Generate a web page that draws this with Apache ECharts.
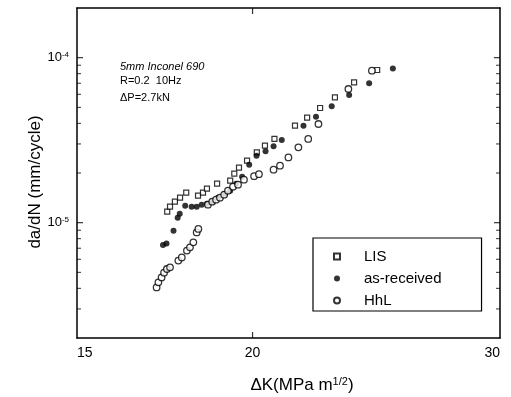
<!DOCTYPE html>
<html><head><meta charset="utf-8">
<script src="https://cdn.jsdelivr.net/npm/echarts@6/dist/echarts.min.js"></script>
<style>html,body{margin:0;padding:0;background:#fff}#c{width:511px;height:397px}</style>
</head><body><div id="c"></div>
<script>
// ΔK (MPa m^1/2) and da/dN (mm/cycle)
const lisK = [17.39,17.47,17.61,17.76,17.94,18.29,18.44,18.56,18.87,19.28,19.41,19.56,19.82,20.14,20.41,20.73,21.44,21.87,22.34,22.89,23.62,24.53];
const lisRate = [1.166e-5,1.25e-5,1.341e-5,1.418e-5,1.52e-5,1.458e-5,1.52e-5,1.607e-5,1.724e-5,1.797e-5,1.982e-5,2.154e-5,2.375e-5,2.667e-5,2.929e-5,3.216e-5,3.872e-5,4.329e-5,4.955e-5,5.745e-5,7.09e-5,8.42e-5];
const asrK = [17.27,17.37,17.57,17.69,17.75,17.91,18.10,18.25,18.40,18.56,18.72,18.90,19.12,19.28,19.47,19.66,19.89,20.13,20.43,20.70,20.98,21.74,22.19,22.77,23.43,24.21,25.17];
const asrRate = [7.31e-6,7.49e-6,8.94e-6,1.072e-5,1.134e-5,1.268e-5,1.25e-5,1.25e-5,1.286e-5,1.304e-5,1.341e-5,1.418e-5,1.499e-5,1.563e-5,1.724e-5,1.901e-5,2.246e-5,2.547e-5,2.713e-5,2.901e-5,3.172e-5,3.872e-5,4.389e-5,5.068e-5,5.94e-5,6.99e-5,8.61e-5];
const hhlK = [17.09,17.14,17.23,17.30,17.38,17.47,17.71,17.81,17.96,18.05,18.15,18.25,18.30,18.59,18.72,18.84,18.96,19.09,19.21,19.37,19.53,19.72,20.05,20.21,20.70,20.92,21.21,21.56,21.91,22.28,23.40,24.32];
const hhlRate = [4.05e-6,4.35e-6,4.66e-6,4.98e-6,5.24e-6,5.36e-6,5.89e-6,6.16e-6,6.77e-6,7.09e-6,7.6e-6,8.73e-6,9.16e-6,1.286e-5,1.341e-5,1.378e-5,1.418e-5,1.478e-5,1.563e-5,1.652e-5,1.699e-5,1.822e-5,1.914e-5,1.968e-5,2.096e-5,2.215e-5,2.487e-5,2.86e-5,3.216e-5,3.963e-5,6.46e-5,8.34e-5];
const xTickLabels = [15, 20, 30];
const xTickMarks = [20];
const yTickLabels = [1e-5, 1e-4];
const yDecades = [1e-6, 1e-5, 1e-4];
const yMantissas = [2, 3, 4, 5, 6, 7, 8, 9];
const seriesNames = ['LIS', 'as-received', 'HhL'];
const noteLines = ['5mm Inconel 690', 'R=0.2  10Hz', 'ΔP=2.7kN'];

const xMin = 15, xMax = 30, yMin = 2e-6, yMax = 2e-4;
const yMinorMarks = [];
yDecades.forEach(d => yMantissas.forEach(m => { const v = +(d * m).toPrecision(3); if (v > yMin && v < yMax) yMinorMarks.push(v); }));

const zip = (a, b) => a.map((v, i) => [v, b[i]]);
const FONT = "'Liberation Sans', Arial, sans-serif";
const yFmt = v => '{b|10}{s|' + Math.round(Math.log10(v)) + '}';

const axisBase = {
  axisLine: { show: true, lineStyle: { color: '#000', width: 1.5 } },
  splitLine: { show: false }, minorTick: { show: false }, axisTick: { show: false }
};
const xCommon = Object.assign({ type: 'log', logBase: 10, min: xMin, max: xMax }, axisBase);
const yCommon = Object.assign({ type: 'log', logBase: 10, min: yMin, max: yMax }, axisBase);

// tick marks placed through the axes' own scales
const tickSeries = (data, size, offset) => ({
  type: 'scatter', data, symbol: 'rect', symbolSize: size, symbolOffset: offset,
  itemStyle: { color: '#000' }, silent: true, clip: false, z: 1
});

const chart = echarts.init(document.getElementById('c'));
chart.setOption({
  backgroundColor: '#fff',
  animation: false,
  tooltip: { show: false },
  grid: { left: 77, right: 11, top: 8, bottom: 59, outerBoundsMode: 'none', show: false },
  xAxis: [
    Object.assign({}, xCommon, {
      position: 'bottom',
      name: '{a|ΔK(MPa m}{s|1/2}{a|)}', nameLocation: 'middle', nameGap: 38,
      nameTextStyle: { padding: [0, 0, 0, 27], rich: {
        a: { fontSize: 17, fontFamily: FONT, color: '#000' },
        s: { fontSize: 11, fontFamily: FONT, color: '#000', verticalAlign: 'top', padding: [0, 0, 8, 0] } } },
      axisLabel: { show: true, customValues: xTickLabels, margin: 8, fontSize: 14, fontFamily: FONT, color: '#000',
        alignMinLabel: 'left', alignMaxLabel: 'right' }
    }),
    Object.assign({}, xCommon, { position: 'top', axisLabel: { show: false } })
  ],
  yAxis: [
    Object.assign({}, yCommon, {
      position: 'left',
      name: 'da/dN (mm/cycle)', nameLocation: 'middle', nameGap: 33, nameMoveOverlap: false,
      nameTextStyle: { fontSize: 17, fontFamily: FONT, color: '#000', padding: [0, 18, 0, 0] },
      axisLabel: { show: true, customValues: yTickLabels, formatter: yFmt, margin: 8, color: '#000',
        rich: { b: { fontSize: 13, fontFamily: FONT, color: '#000' },
                s: { fontSize: 8, fontFamily: FONT, color: '#000', verticalAlign: 'top', padding: [0, 0, 6, 0] } } }
    }),
    Object.assign({}, yCommon, { position: 'right', axisLabel: { show: false } })
  ],
  legend: {
    data: [{ name: seriesNames[0], icon: 'path://M0,0L10,0L10,10L0,10Z' }, seriesNames[1], seriesNames[2]],
    orient: 'vertical', left: 313, top: 238,
    padding: [11, 40, 3, 20], itemGap: 7, itemWidth: 6, itemHeight: 6,
    borderColor: '#000', borderWidth: 1.2, backgroundColor: '#fff', selectedMode: false,
    textStyle: { fontSize: 15, fontFamily: FONT, color: '#000', padding: [0, 0, 0, 19] }
  },
  graphic: noteLines.map((t, i) => ({
    type: 'text', left: 120, top: [61, 75, 92][i],
    style: { text: t, fontSize: 11, fontFamily: FONT, fontStyle: i === 0 ? 'italic' : 'normal', fill: '#000' }
  })),
  series: [
    { name: seriesNames[0], type: 'scatter', data: zip(lisK, lisRate), symbol: 'rect', symbolSize: 5,
      itemStyle: { color: '#fff', borderColor: '#000', borderWidth: 1.2 }, z: 3 },
    { name: seriesNames[1], type: 'scatter', data: zip(asrK, asrRate), symbol: 'circle', symbolSize: 6,
      itemStyle: { color: '#000', borderColor: '#000', borderWidth: 0 }, z: 3 },
    { name: seriesNames[2], type: 'scatter', data: zip(hhlK, hhlRate), symbol: 'circle', symbolSize: 6.5,
      itemStyle: { color: '#fff', borderColor: '#000', borderWidth: 1.3 }, z: 3 },
    tickSeries(yMinorMarks.map(v => [xMin, v]), [4, 1], [2, 0]),
    tickSeries(yTickLabels.map(v => [xMin, v]), [6, 1.2], [3, 0]),
    tickSeries(yMinorMarks.map(v => [xMax, v]), [4, 1], [-2, 0]),
    tickSeries(yTickLabels.map(v => [xMax, v]), [6, 1.2], [-3, 0]),
    tickSeries(xTickMarks.map(v => [v, yMin]), [1.2, 6], [0, -3]),
    tickSeries(xTickMarks.map(v => [v, yMax]), [1.2, 6], [0, 3])
  ]
});
</script></body></html>
